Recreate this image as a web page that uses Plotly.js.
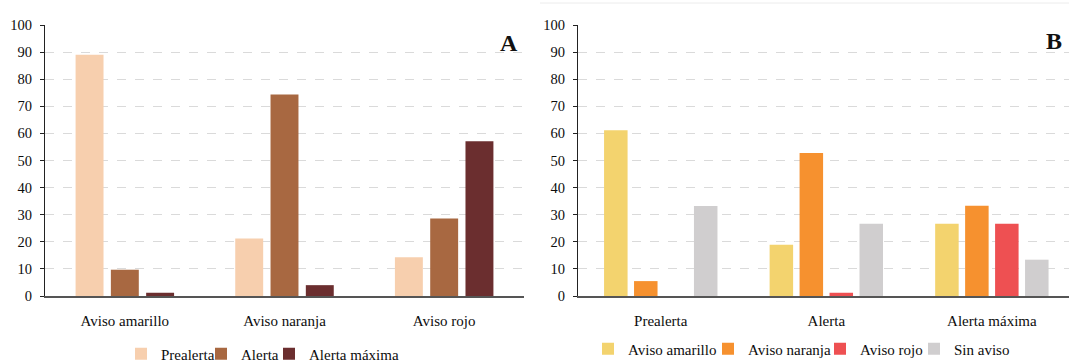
<!DOCTYPE html>
<html>
<head>
<meta charset="utf-8">
<script src="https://cdn.plot.ly/plotly-3.0.1.min.js"></script>
<style>html,body{margin:0;padding:0;background:#fff;overflow:hidden}#chart{width:1069px;height:363px}</style>
</head>
<body>
<div id="chart"></div>
<script>
// ---- Data ----
const catsA = ['Aviso amarillo', 'Aviso naranja', 'Aviso rojo'];
const prealerta = [89.0, 21.2, 14.3];
const alerta = [9.7, 74.4, 28.6];
const alertaMaxima = [1.2, 4.0, 57.1];

const catsB = ['Prealerta', 'Alerta', 'Alerta máxima'];
const avisoAmarillo = [61.2, 18.9, 26.7];
const avisoNaranja = [5.5, 52.8, 33.3];
const avisoRojo = [0, 1.2, 26.7];
const sinAviso = [33.2, 26.7, 13.4];

const yTickVals = [0, 10, 20, 30, 40, 50, 60, 70, 80, 90, 100];
const panelLabels = ['A', 'B'];

// ---- Styling ----
const W = 1069, H = 363;
const FONT = "'Liberation Serif', 'Times New Roman', Times, 'DejaVu Serif', serif";
const TXT = '#0d0d0d';

const bwA = 0.175, slotA = 0.221;
const bwB = 0.142, slotB = 0.181;

function barA(name, y, color, i, legend) {
  return {type: 'bar', name: name, x: catsA, y: y, xaxis: 'x', yaxis: 'y',
    width: bwA, offset: (i - 1) * slotA - bwA / 2,
    marker: {color: color, line: {width: 0}}, legend: legend, hoverinfo: 'x+y+name'};
}
function barB(name, y, color, i, legend) {
  return {type: 'bar', name: name, x: catsB, y: y, xaxis: 'x2', yaxis: 'y2',
    width: bwB, offset: (i - 1.5) * slotB - bwB / 2,
    marker: {color: color, line: {width: 0}}, legend: legend, hoverinfo: 'x+y+name'};
}

const data = [
  barA('Prealerta', prealerta, '#F7CFAE', 0, 'legend'),
  barA('Alerta', alerta, '#A86841', 1, 'legend2'),
  barA('Alerta máxima', alertaMaxima, '#6B2E2F', 2, 'legend3'),
  barB('Aviso amarillo', avisoAmarillo, '#F3D36E', 0, 'legend4'),
  barB('Aviso naranja', avisoNaranja, '#F6912F', 1, 'legend5'),
  barB('Aviso rojo', avisoRojo, '#EE5052', 2, 'legend6'),
  barB('Sin aviso', sinAviso, '#D0CECF', 3, 'legend7')
];

const px = v => v / W;
const py = v => 1 - v / H;

const yDomain = [py(296), py(25)];

function yAxis(anchor) {
  return {anchor: anchor, domain: yDomain, range: [0, 100], tickvals: yTickVals,
    showline: true, linecolor: '#222', linewidth: 1.3, ticks: 'outside', ticklen: 4,
    tickcolor: '#222', tickwidth: 1.3, ticklabelstandoff: 5, automargin: false,
    showgrid: true, gridcolor: '#dadada', griddash: 'dash', gridwidth: 1,
    zeroline: false, fixedrange: true,
    tickfont: {family: FONT, size: 14.5, color: TXT}};
}
function xAxis(anchor, domain, range) {
  return {anchor: anchor, domain: domain, range: range, type: 'category',
    showline: true, linecolor: '#555', linewidth: 1.8, ticks: '', showgrid: false,
    ticklabelstandoff: 10, fixedrange: true, automargin: false,
    tickfont: {family: FONT, size: 15, color: TXT}};
}

function legendAt(x, y) {
  return {x: px(x), y: py(y), xanchor: 'left', yanchor: 'middle', orientation: 'h',
    bgcolor: 'rgba(0,0,0,0)', borderwidth: 0, itemwidth: 30, itemclick: false, itemdoubleclick: false,
    font: {family: FONT, size: 15, color: TXT}};
}

const layout = {
  width: W, height: H,
  font: {family: FONT, color: TXT},
  margin: {l: 0, r: 0, t: 0, b: 0, pad: 0, autoexpand: false},
  paper_bgcolor: '#fff', plot_bgcolor: 'rgba(0,0,0,0)',
  barmode: 'overlay',
  showlegend: true,
  xaxis: xAxis('y', [px(45), px(524)], [-0.5, 2.5]),
  yaxis: yAxis('x'),
  xaxis2: xAxis('y2', [px(578), 1], [-0.5, 2.466]),
  yaxis2: yAxis('x2'),
  legend: legendAt(121, 354),
  legend2: legendAt(201, 354),
  legend3: legendAt(269, 354),
  legend4: legendAt(588, 349),
  legend5: legendAt(708, 349),
  legend6: legendAt(820, 349),
  legend7: legendAt(914, 349),
  annotations: [
    {text: '<b>' + panelLabels[0] + '</b>', x: px(509), y: py(43), xref: 'paper', yref: 'paper',
      showarrow: false, xanchor: 'center', yanchor: 'middle', font: {family: FONT, size: 24, color: '#111'}},
    {text: '<b>' + panelLabels[1] + '</b>', x: px(1054), y: py(41), xref: 'paper', yref: 'paper',
      showarrow: false, xanchor: 'center', yanchor: 'middle', font: {family: FONT, size: 24, color: '#111'}}
  ],
  shapes: [
    {type: 'line', xref: 'paper', yref: 'paper', x0: px(540), x1: 1, y0: py(3), y1: py(3),
      line: {color: '#ececec', width: 1}}
  ]
};

Plotly.newPlot('chart', data, layout, {displayModeBar: false, responsive: false});
</script>
</body>
</html>
